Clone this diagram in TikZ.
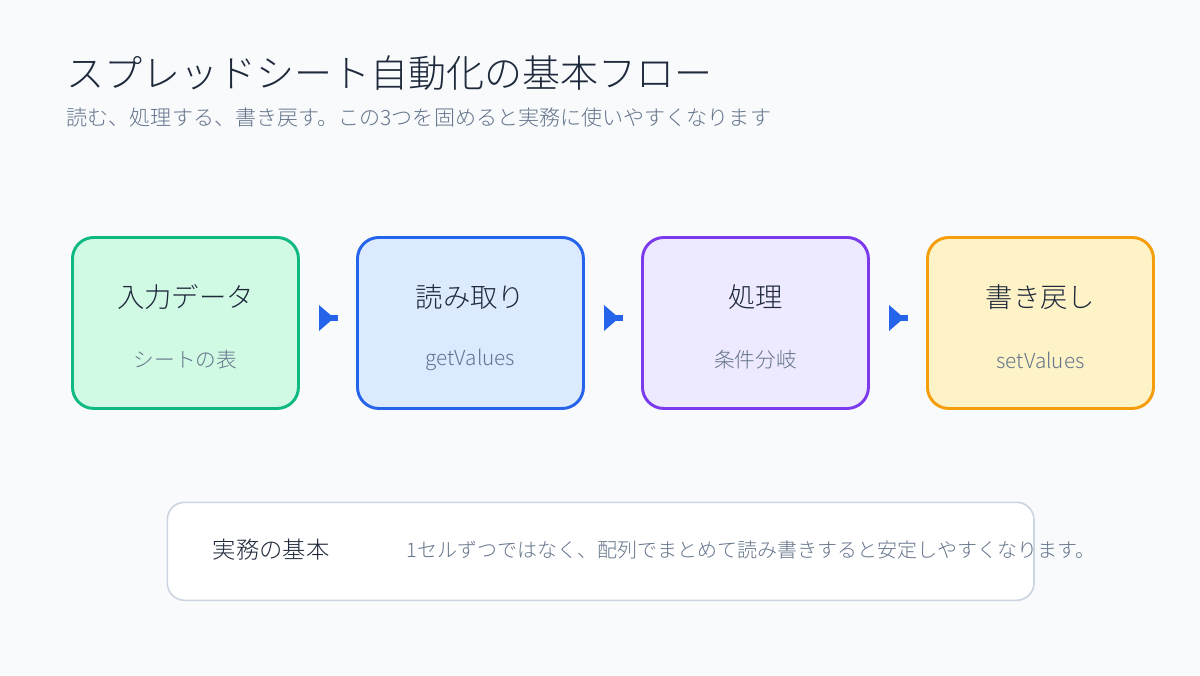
\documentclass[tikz,border=0pt]{standalone}
\usepackage{fontspec}
\setmainfont{Noto Sans CJK JP}[UprightFont=* Light]
\definecolor{bg}{HTML}{F8FAFC}
\definecolor{abl}{HTML}{2563EB}
\definecolor{gray}{HTML}{64748B}
\definecolor{tx}{HTML}{1E293B}
\definecolor{g1}{HTML}{10B981}\definecolor{f1}{HTML}{D1FAE5}
\definecolor{g2}{HTML}{2563EB}\definecolor{f2}{HTML}{DBEAFE}
\definecolor{g3}{HTML}{7C3AED}\definecolor{f3}{HTML}{EDE9FE}
\definecolor{g4}{HTML}{F59E0B}\definecolor{f4}{HTML}{FEF3C7}
\definecolor{bd}{HTML}{CBD5E1}
\begin{document}
\begin{tikzpicture}[x=0.75pt,y=-0.75pt,
 box/.style={line width=2.2pt,rounded corners=16pt,minimum width=169.5pt,minimum height=128.25pt,anchor=north west},
 ttl/.style={font=\fontsize{20.5}{24}\selectfont,text=tx},
 sub/.style={font=\fontsize{15.5}{18}\selectfont,text=gray}]
\path[fill=bg] (0,0) rectangle (1200,675);
\useasboundingbox (0,0) rectangle (1200,675);
\node[anchor=west,font=\fontsize{28.5}{33}\selectfont,text=tx] (t) at (62,73) {スプレッドシート自動化の基本フロー};
\node[anchor=west,font=\fontsize{15.8}{18}\selectfont,text=gray] (s) at (62,118) {読む、処理する、書き戻す。この3つを固めると実務に使いやすくなります};
\foreach \i/\x in {1/71,2/356,3/641,4/926}{
 \node[box,draw=g\i,fill=f\i] (b\i) at (\x,236) {};
}
\foreach \i/\a/\b in {1/入力データ/シートの表,2/読み取り/getValues,3/処理/条件分岐,4/書き戻し/setValues}{
 \node[ttl] (h\i) at ([yshift=-46pt]b\i.north) {\a};
 \node[sub] (d\i) at ([yshift=-93pt]b\i.north) {\b};
}
\foreach \x in {0,285,570}{
 \fill[abl] (319+\x,305) -- (334+\x,318) -- (319+\x,331) -- cycle;
 \draw[abl,line width=4pt] (319+\x,318) -- (338+\x,318);
}
\node[draw=bd,line width=1.2pt,fill=white,rounded corners=13pt,minimum width=650pt,minimum height=73.5pt,anchor=north west] (n) at (166.5,501.5) {};
\node[anchor=west,font=\fontsize{17.5}{20}\selectfont,text=tx] (n1) at (208,550) {実務の基本};
\node[anchor=west,font=\fontsize{15}{17}\selectfont,text=gray] (n2) at (402,550) {1セルずつではなく、配列でまとめて読み書きすると安定しやすくなります。};
\end{tikzpicture}
\end{document}
